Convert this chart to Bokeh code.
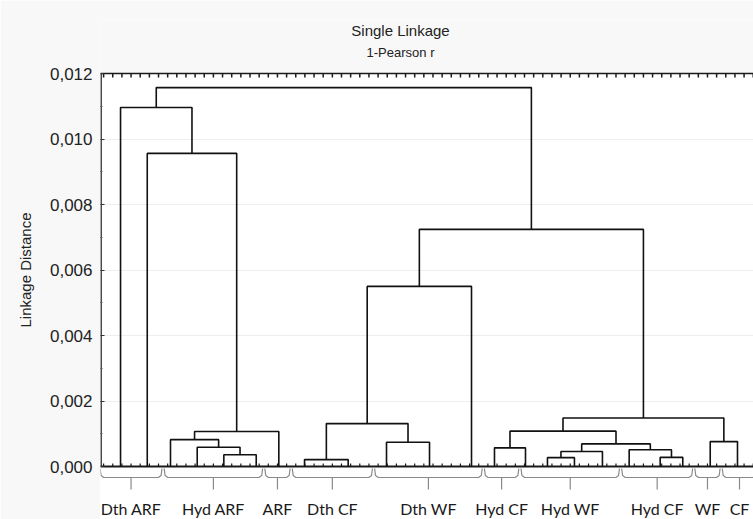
import numpy as np
from bokeh.plotting import figure
from bokeh.models import FixedTicker, CustomJSTickFormatter, BoxAnnotation
from bokeh.core.properties import value
from bokeh.embed import file_html
from bokeh.resources import INLINE

# ---------------- data ----------------
title_lines = ["Single Linkage", "1-Pearson r"]
y_label = "Linkage Distance"
y_ticks = [0.0, 0.002, 0.004, 0.006, 0.008, 0.010, 0.012]
y_minor = [0.001, 0.003, 0.005, 0.007, 0.009, 0.011]

groups = ["Dth ARF", "Hyd ARF", "ARF", "Dth CF", "Dth WF",
          "Hyd CF", "Hyd WF", "Hyd CF", "WF", "CF"]
group_sizes = [7, 11, 3, 9, 12, 4, 11, 8, 3, 4]

# positions (in leaf-index units) of the clusters that join at ~0 distance
terminal_x = [1.85, 4.77, 7.31, 10.23, 13.14, 16.68, 19.15, 21.96, 26.73,
              30.92, 35.62, 40.21, 42.72, 46.11, 48.51, 51.46, 54.52,
              57.44, 60.83, 63.30, 66.30, 69.28]

# merges: left child, right child, linkage distance
merge_left = ["t4", "t3", "t2", "m2", "t1", "t0", "t7", "t9", "m6", "m8",
              "t12", "t14", "m11", "t18", "t17", "m12", "m10", "t20",
              "m16", "m9", "m5"]
merge_right = ["t5", "m0", "m1", "t6", "m3", "m4", "t8", "t10", "m7", "t11",
               "t13", "t15", "t16", "t19", "m13", "m14", "m15", "t21",
               "m17", "m18", "m19"]
merge_height = [0.00036, 0.00059, 0.00082, 0.00107, 0.00956, 0.01096,
                0.00021, 0.00074, 0.00131, 0.00550, 0.00057, 0.00027,
                0.00046, 0.00028, 0.00051, 0.00069, 0.00108, 0.00076,
                0.00148, 0.00724, 0.01157]

# ---------------- layout constants ----------------
PX = 1.0 / 32750.0            # one vertical pixel in distance units
X_START, X_END = -0.34, 71.03
Y_START, Y_END = -53 * PX, 446 * PX
INK = "#1a1a1a"
TOP = y_ticks[-1]
X_TITLE = 32.45

p = figure(width=753, height=519, output_backend="svg", toolbar_location=None,
           x_range=(X_START, X_END), y_range=(Y_START, Y_END),
           x_axis_location=None, y_axis_location="left", title=None,
           min_border_left=100, min_border_right=0, min_border_top=20,
           min_border_bottom=0)
p.outline_line_color = None
p.background_fill_color = "white"
p.border_fill_color = "#f8f8f8"
p.add_layout(BoxAnnotation(bottom=TOP, fill_color="#f8f8f8", fill_alpha=1.0,
                           line_color=None, level="underlay"))

ya = p.yaxis[0]
ya.ticker = FixedTicker(ticks=y_ticks, minor_ticks=y_minor)
ya.formatter = CustomJSTickFormatter(code="return tick.toFixed(3).replace('.', ',');")
ya.axis_line_color = None
ya.major_tick_in = 4
ya.major_tick_out = 0
ya.minor_tick_in = 2
ya.minor_tick_out = 0
ya.major_tick_line_color = "#333333"
ya.minor_tick_line_color = "#555555"
ya.major_label_text_font = "Liberation Sans"
ya.major_label_text_font_size = "17px"
ya.major_label_text_color = "#222222"
ya.major_label_standoff = 8
ya.axis_label = y_label
ya.axis_label_text_font = "Liberation Sans"
ya.axis_label_text_font_size = "15px"
ya.axis_label_text_font_style = "normal"
ya.axis_label_text_color = "#222222"
ya.axis_label_standoff = 13

p.xgrid.visible = False
p.ygrid.ticker = FixedTicker(ticks=y_ticks[:-1], minor_ticks=[])
p.ygrid.grid_line_color = "#eeeeee"

n_leaves = int(sum(group_sizes))
leaf_x = np.arange(n_leaves)

# frame lines: left (distance scale only), top and baseline
p.segment(x0=[X_START + 0.06], y0=[0.0], x1=[X_START + 0.06], y1=[TOP],
          line_color=INK, line_width=1.5)
p.segment(x0=[X_START], y0=[TOP], x1=[X_END], y1=[TOP],
          line_color=INK, line_width=1.5)
p.segment(x0=[X_START], y0=[0.0], x1=[X_END], y1=[0.0],
          line_color=INK, line_width=2)
# a tick on every leaf, top and bottom
p.segment(x0=leaf_x, y0=np.full(n_leaves, TOP), x1=leaf_x,
          y1=np.full(n_leaves, TOP - 4 * PX), line_color=INK, line_width=1.5)
p.segment(x0=leaf_x, y0=np.zeros(n_leaves), x1=leaf_x,
          y1=np.full(n_leaves, 3 * PX), line_color=INK, line_width=1.2)

# dendrogram
pos = {f"t{i}": (x, 0.0) for i, x in enumerate(terminal_x)}
xs, ys = [], []
for k, (l, r, h) in enumerate(zip(merge_left, merge_right, merge_height)):
    xl, hl = pos[l]
    xr, hr = pos[r]
    xs.append([xl, xl, xr, xr])
    ys.append([hl, h, h, hr])
    pos[f"m{k}"] = ((xl + xr) / 2.0, h)
p.multi_line(xs, ys, line_color="#111111", line_width=1.6)

# group brackets and labels
ends = np.cumsum(group_sizes)
starts = ends - np.array(group_sizes)
bx, by, cx = [], [], []
for s, e in zip(starts, ends):
    x0 = s - 0.5 + 0.12
    x1 = e - 0.5 - 0.12
    bx.append([x0, x0 + 0.1, x0 + 0.4, x1 - 0.4, x1 - 0.1, x1])
    by.append([-2 * PX, -9 * PX, -11 * PX, -11 * PX, -9 * PX, -2 * PX])
    cx.append((s + e - 1) / 2.0)
p.multi_line(bx, by, line_color="#8a8a8a", line_width=1.2)
p.segment(x0=cx, y0=[-11 * PX] * len(cx), x1=cx, y1=[-23 * PX] * len(cx),
          line_color="#8a8a8a", line_width=1.2)
p.text(x=cx, y=[-42 * PX] * len(cx), text=groups,
       text_font=value("Lato"), text_font_size="16px", text_color="#1a1a1a",
       text_align="center", text_baseline="middle")

# titles
p.text(x=[X_TITLE], y=[436 * PX], text=[title_lines[0]],
       text_font=value("Liberation Sans"), text_font_size="15px",
       text_color="#222222", text_align="center", text_baseline="middle",
       level="overlay")
p.text(x=[X_TITLE], y=[414 * PX], text=[title_lines[1]],
       text_font=value("Liberation Sans"), text_font_size="13px",
       text_color="#222222", text_align="center", text_baseline="middle",
       level="overlay")

open("out.html", "w").write(file_html(p, INLINE))
